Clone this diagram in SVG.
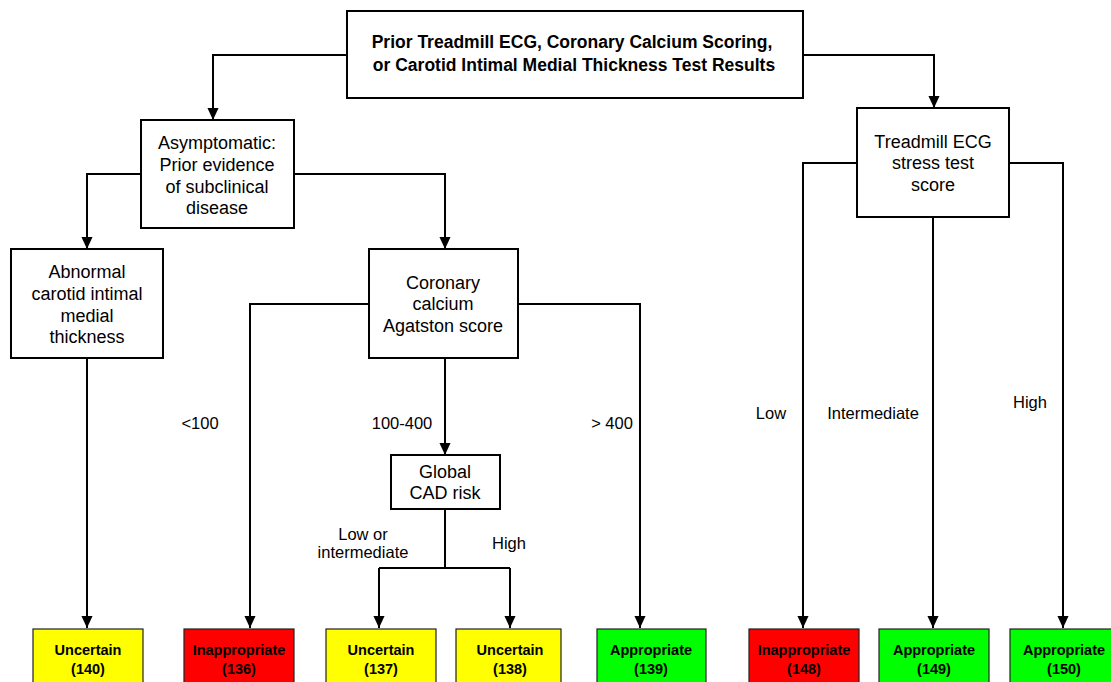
<svg xmlns="http://www.w3.org/2000/svg" width="1111" height="682" viewBox="0 0 1111 682">
<style>
.box{fill:#fff;stroke:#000;stroke-width:2}
.out{stroke:#222;stroke-width:1.2}
.yel{fill:#ffff00}.red{fill:#ff0000}.grn{fill:#00ff00}
.t{font-family:"Liberation Sans",Arial,sans-serif;font-size:18px;text-anchor:middle;fill:#000}
.tb{font-family:"Liberation Sans",Arial,sans-serif;font-size:17.5px;font-weight:bold;text-anchor:middle;fill:#000}
.lbl{font-family:"Liberation Sans",Arial,sans-serif;font-size:16.5px;text-anchor:middle;fill:#000}
.res{font-family:"Liberation Sans",Arial,sans-serif;font-size:14.5px;font-weight:bold;text-anchor:middle;fill:#000}
.c{fill:none;stroke:#000;stroke-width:2}
</style>
<defs>
<marker id="a" markerUnits="userSpaceOnUse" markerWidth="12" markerHeight="13" refX="13" refY="6" orient="auto" viewBox="0 0 13 12">
<path d="M0,0 L13,6 L0,12 Z" fill="#000"/>
</marker>
</defs>
<rect width="1111" height="682" fill="#fff"/>
<g id="connectors">
<polyline class="c" points="347,55 213,55 213,120" marker-end="url(#a)"/>
<polyline class="c" points="803,55 934,55 934,108" marker-end="url(#a)"/>
<polyline class="c" points="141,174 87,174 87,249" marker-end="url(#a)"/>
<polyline class="c" points="294,174 445,174 445,249" marker-end="url(#a)"/>
<polyline class="c" points="87,358 87,628" marker-end="url(#a)"/>
<polyline class="c" points="369,304 250,304 250,628" marker-end="url(#a)"/>
<polyline class="c" points="518,304 640,304 640,628" marker-end="url(#a)"/>
<polyline class="c" points="445,358 445,455" marker-end="url(#a)"/>
<polyline class="c" points="445,509 445,568"/>
<polyline class="c" points="379,568 510,568"/>
<polyline class="c" points="379,568 379,628" marker-end="url(#a)"/>
<polyline class="c" points="510,568 510,628" marker-end="url(#a)"/>
<polyline class="c" points="857,163 803,163 803,628" marker-end="url(#a)"/>
<polyline class="c" points="1009,163 1063,163 1063,628" marker-end="url(#a)"/>
<polyline class="c" points="933,217 933,628" marker-end="url(#a)"/>
</g>
<g id="labels">
<text class="lbl" x="200" y="429">&lt;100</text>
<text class="lbl" x="402" y="429">100-400</text>
<text class="lbl" x="612" y="429">&gt; 400</text>
<text class="lbl" x="363" y="540">Low or</text>
<text class="lbl" x="363" y="558">intermediate</text>
<text class="lbl" x="509" y="549">High</text>
<text class="lbl" x="771" y="419">Low</text>
<text class="lbl" x="873" y="419">Intermediate</text>
<text class="lbl" x="1030" y="408">High</text>
</g>
<g id="root">
<rect class="box" x="347" y="11" width="456" height="87"/>
<text class="tb" x="572" y="48">Prior Treadmill ECG, Coronary  Calcium  Scoring,</text>
<text class="tb" x="574" y="71">or Carotid  Intimal  Medial  Thickness  Test  Results</text>
</g>
<g id="asymptomatic">
<rect class="box" x="141" y="120" width="153" height="108"/>
<text class="t" x="217" y="149">Asymptomatic:</text>
<text class="t" x="217" y="171">Prior evidence</text>
<text class="t" x="217" y="193">of subclinical</text>
<text class="t" x="217" y="214">disease</text>
</g>
<g id="treadmill">
<rect class="box" x="857" y="108" width="152" height="109"/>
<text class="t" x="933" y="148">Treadmill ECG</text>
<text class="t" x="933" y="169">stress test</text>
<text class="t" x="933" y="191">score</text>
</g>
<g id="abnormal">
<rect class="box" x="11" y="249" width="152" height="109"/>
<text class="t" x="87" y="278">Abnormal</text>
<text class="t" x="87" y="300">carotid intimal</text>
<text class="t" x="87" y="322">medial</text>
<text class="t" x="87" y="343">thickness</text>
</g>
<g id="coronary">
<rect class="box" x="369" y="249" width="149" height="109"/>
<text class="t" x="443" y="289">Coronary</text>
<text class="t" x="443" y="310">calcium</text>
<text class="t" x="443" y="332">Agatston  score</text>
</g>
<g id="global">
<rect class="box" x="391" y="455" width="109" height="54"/>
<text class="t" x="445" y="478">Global</text>
<text class="t" x="445" y="499">CAD risk</text>
</g>
<g id="r140"><rect class="out yel" x="33" y="629" width="110" height="60"/><text class="res" x="88" y="655">Uncertain</text><text class="res" x="88" y="674">(140)</text></g>
<g id="r136"><rect class="out red" x="184" y="629" width="110" height="60"/><text class="res" x="239" y="655">Inappropriate</text><text class="res" x="239" y="674">(136)</text></g>
<g id="r137"><rect class="out yel" x="326" y="629" width="110" height="60"/><text class="res" x="381" y="655">Uncertain</text><text class="res" x="381" y="674">(137)</text></g>
<g id="r138"><rect class="out yel" x="456" y="629" width="105" height="60"/><text class="res" x="510" y="655">Uncertain</text><text class="res" x="510" y="674">(138)</text></g>
<g id="r139"><rect class="out grn" x="597" y="629" width="109" height="60"/><text class="res" x="651" y="655">Appropriate</text><text class="res" x="651" y="674">(139)</text></g>
<g id="r148"><rect class="out red" x="749" y="629" width="110" height="60"/><text class="res" x="804" y="655">Inappropriate</text><text class="res" x="804" y="674">(148)</text></g>
<g id="r149"><rect class="out grn" x="879" y="629" width="110" height="60"/><text class="res" x="934" y="655">Appropriate</text><text class="res" x="934" y="674">(149)</text></g>
<g id="r150"><rect class="out grn" x="1010" y="629" width="110" height="60"/><text class="res" x="1064" y="655">Appropriate</text><text class="res" x="1064" y="674">(150)</text></g>
</svg>
